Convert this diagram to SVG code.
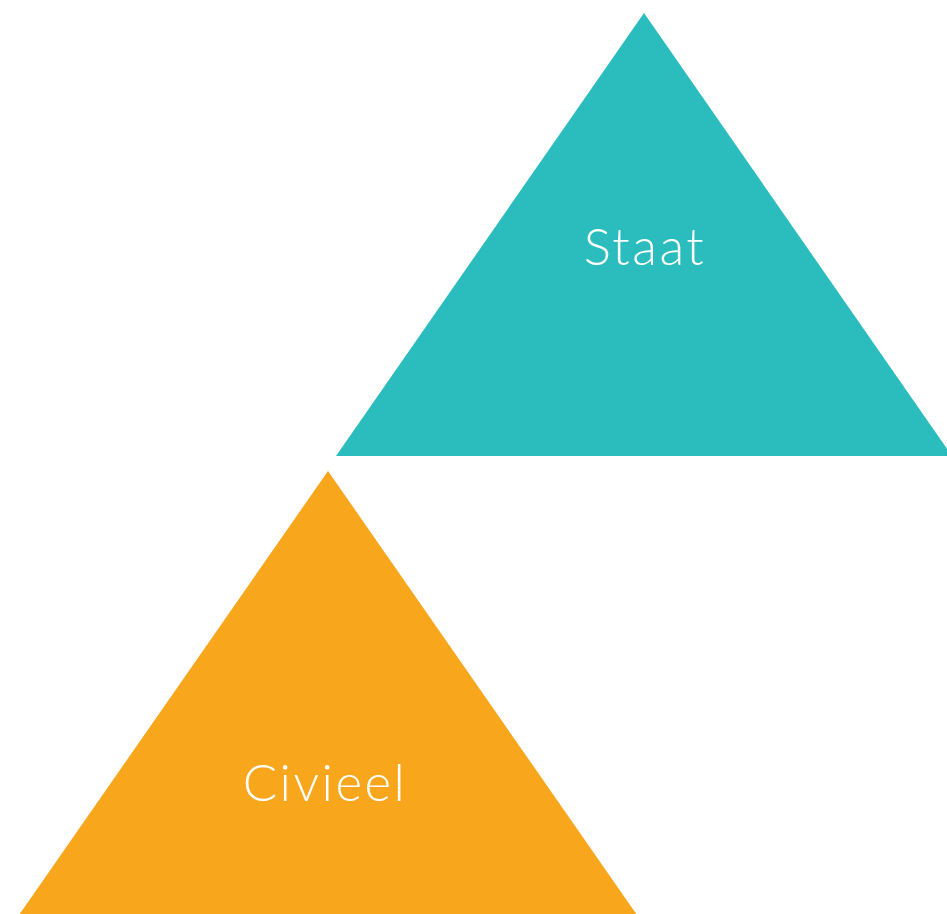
<svg xmlns="http://www.w3.org/2000/svg" width="947" height="914" viewBox="0 0 947 914">
<style>
.lbl{font-family:Lato,"Open Sans","Liberation Sans",sans-serif;font-weight:300;font-size:51px;letter-spacing:2.5px;fill:#ffffff;text-anchor:middle}
</style>
<rect width="947" height="914" fill="#ffffff"/>
<g id="staat">
<polygon points="644,13 952,456 336,456" fill="#2BBCBD"/>
<text class="lbl" x="645" y="265">Staat</text>
</g>
<g id="civieel">
<polygon points="328,471 637,915 19,915" fill="#F8A61C"/>
<text class="lbl" x="325" y="801">Civieel</text>
</g>
<g id="connectors"></g>
</svg>
